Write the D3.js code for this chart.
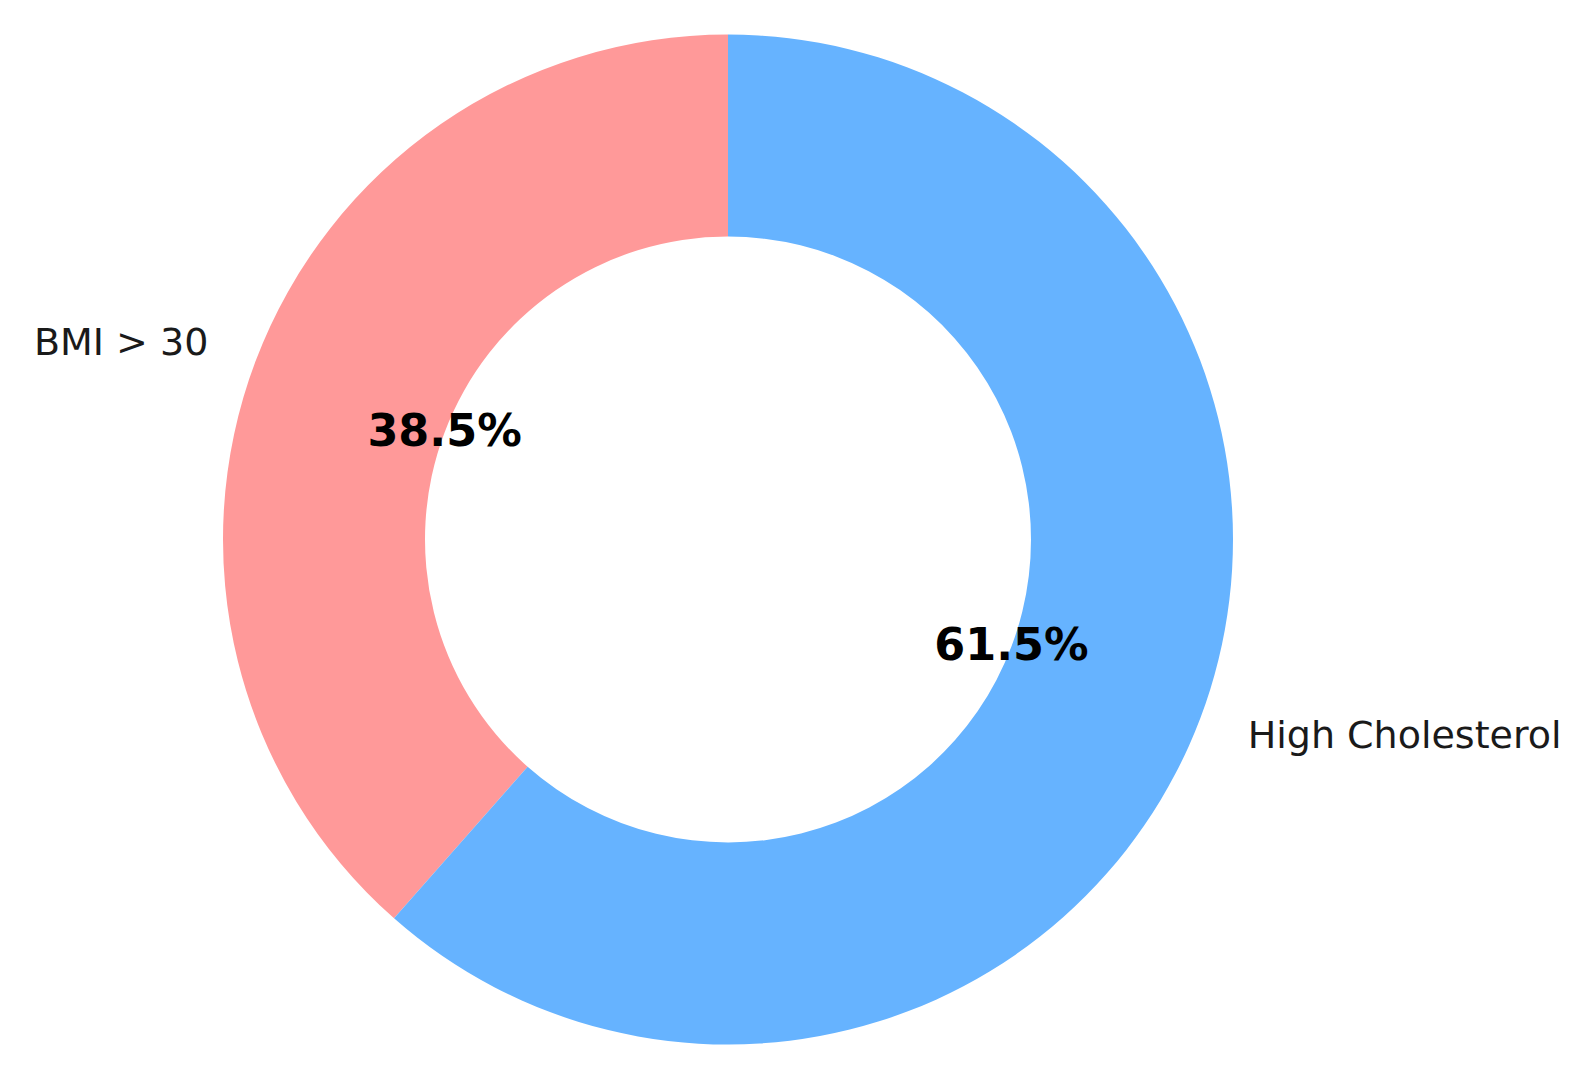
<!DOCTYPE html>
<html>
<head>
<meta charset="utf-8">
<style>
  body { margin: 0; background: #fff; }
  svg text { font-family: "DejaVu Sans", sans-serif; }
</style>
</head>
<body>
<svg width="1590" height="1084"></svg>
<script src="https://d3js.org/d3.v7.min.js"></script>
<script>
var labels = ["BMI > 30", "High Cholesterol"];
var values = [38.5, 61.5];
var colors = ["#ff9999", "#66b3ff"];

var svg = d3.select("svg"),
    cx = 728, cy = 539.5,
    outer = 505, inner = outer * 0.6;

var g = svg.append("g").attr("transform", "translate(" + cx + "," + cy + ")");

// matplotlib style: start at the top, go counter-clockwise
var pie = d3.pie().sort(null)
    .startAngle(0).endAngle(-2 * Math.PI)
    .value(function(d) { return d; });

var arcs = pie(values);

var arc = d3.arc().innerRadius(inner).outerRadius(outer);

g.selectAll("path")
  .data(arcs)
  .enter().append("path")
    .attr("d", arc)
    .attr("fill", function(d, i) { return colors[i]; });

function pos(d, r) {
  var a = (d.startAngle + d.endAngle) / 2;
  return [r * Math.sin(a), -r * Math.cos(a)];
}

g.selectAll("text.pct")
  .data(arcs)
  .enter().append("text")
    .attr("class", "pct")
    .attr("x", function(d) { return pos(d, outer * 0.6)[0]; })
    .attr("y", function(d) { return pos(d, outer * 0.6)[1] - 2; })
    .attr("text-anchor", "middle")
    .attr("dominant-baseline", "central")
    .attr("font-size", 44.5)
    .attr("font-weight", "bold")
    .attr("fill", "#000")
    .text(function(d) { return d.value.toFixed(1) + "%"; });

g.selectAll("text.lbl")
  .data(arcs)
  .enter().append("text")
    .attr("class", "lbl")
    .attr("x", function(d) { return pos(d, outer * 1.1)[0]; })
    .attr("y", function(d) { return pos(d, outer * 1.1)[1] - 1; })
    .attr("text-anchor", function(d) { return pos(d, 1)[0] < 0 ? "end" : "start"; })
    .attr("dominant-baseline", "central")
    .attr("font-size", 38)
    .attr("fill", "#1a1a1a")
    .text(function(d, i) { return labels[i]; });
</script>
</body>
</html>
